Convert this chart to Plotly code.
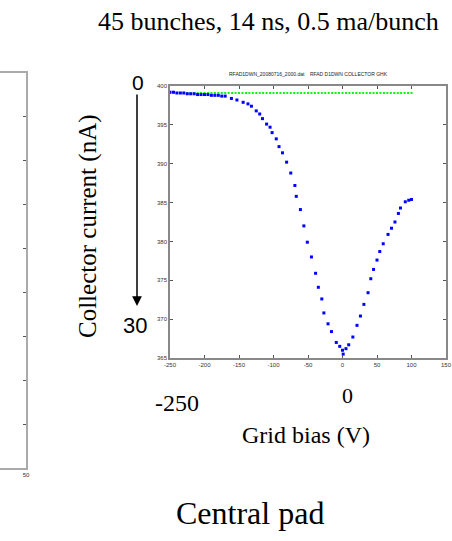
import plotly.graph_objects as go

# Grid bias (V) and collector reading (instrument units) for the central pad
blue_x = [-250, -245, -240, -235, -230, -225, -220, -215, -210, -205, -200, -195, -190, -185, -180, -175,
          -170, -161, -153, -144, -137, -132, -125, -120, -116, -110, -105, -102, -96, -92, -87, -81, -75,
          -69, -67, -61, -56, -51, -45, -39, -35, -30, -27, -21, -16, -9, -4, 0, 1, 5, 9, 15, 21,
          26, 31, 37, 41, 45, 50, 54, 59, 66, 71, 76, 81, 84, 91, 96, 100]
blue_y = [399.2, 399.2, 399.1, 399.1, 399.1, 399.0, 399.0, 399.0, 398.9, 398.9, 398.9, 398.9, 398.8, 398.8, 398.8, 398.7,
          398.7, 398.4, 398.2, 397.9, 397.7, 397.4, 396.8, 396.4, 395.8, 395.1, 394.7, 394.0, 393.2, 392.2, 391.4, 390.2, 388.8,
          387.2, 385.8, 384.1, 382.0, 379.9, 378.0, 375.9, 374.1, 372.6, 370.8, 369.4, 368.4, 367.0, 366.5, 366.0, 365.5, 366.2, 366.7, 367.7, 369.2,
          370.4, 371.9, 373.4, 375.2, 376.4, 377.6, 378.7, 379.7, 380.9, 381.7, 382.5, 383.6, 384.3, 385.1, 385.3, 385.4]

green_x = [-250, -245, -240, -235, -230, -225, -220, -215, -210, -205, -200, -195, -190, -185, -180, -175,
           -170, -165, -160, -155, -150, -145, -140, -135, -130, -125, -120, -115, -110, -105, -100, -95,
           -90, -85, -80, -75, -70, -65, -60, -55, -50, -45, -40, -35, -30, -25, -20, -15, -10, -5, 0,
           5, 10, 15, 20, 25, 30, 35, 40, 45, 50, 55, 60, 65, 70, 75, 80, 85, 90, 95, 100]
green_y = [399.1, 399.1, 399.1, 399.1, 399.1, 399.1, 399.1, 399.1, 399.1, 399.1, 399.1, 399.1, 399.1, 399.1, 399.1, 399.1,
           399.1, 399.1, 399.1, 399.1, 399.1, 399.1, 399.1, 399.1, 399.1, 399.1, 399.1, 399.1, 399.1, 399.1, 399.1, 399.1,
           399.1, 399.1, 399.1, 399.1, 399.1, 399.1, 399.1, 399.1, 399.1, 399.1, 399.1, 399.1, 399.1, 399.1, 399.1, 399.1, 399.1, 399.1, 399.1,
           399.1, 399.1, 399.1, 399.1, 399.1, 399.1, 399.1, 399.1, 399.1, 399.1, 399.1, 399.1, 399.1, 399.1, 399.1, 399.1, 399.1, 399.1, 399.1, 399.1]

x_ticks = [-250, -200, -150, -100, -50, 0, 50, 100, 150]
y_ticks = [365, 370, 375, 380, 385, 390, 395, 400]
left_x_ticks = [50]
left_y_ticks = [0, 1, 2, 3, 4, 5, 6, 7, 8, 9]

W, H = 452, 541
def px(x):
    return x / W
def py(y):
    return 1 - y / H

fig = go.Figure()
fig.add_trace(go.Scatter(x=green_x, y=green_y, mode="markers",
                         marker=dict(symbol="square", size=2, color="#00ff00"),
                         xaxis="x", yaxis="y", showlegend=False, cliponaxis=False))
fig.add_trace(go.Scatter(x=blue_x, y=blue_y, mode="markers",
                         marker=dict(symbol="square", size=3, color="#0000ff"),
                         xaxis="x", yaxis="y", showlegend=False, cliponaxis=False))
# empty trace to show the partial left panel
fig.add_trace(go.Scatter(x=[], y=[], xaxis="x2", yaxis="y2", showlegend=False))

tickfont = dict(family="Liberation Sans, Arial", size=6, color="#333333")
axcommon = dict(showline=True, linecolor="#888888", linewidth=1.5, mirror="ticks",
                ticks="inside", ticklen=3, tickcolor="#555555", showgrid=False, zeroline=False,
                tickfont=tickfont, fixedrange=True, automargin=False)

fig.update_layout(
    width=W, height=H, autosize=False,
    margin=dict(l=0, r=0, t=0, b=0, pad=0, autoexpand=False),
    paper_bgcolor="white", plot_bgcolor="white",
    xaxis=dict(domain=[px(170), px(446)], range=[-250, 150], tickvals=x_ticks,
               ticktext=[str(v) for v in x_ticks], anchor="y", **axcommon),
    yaxis=dict(domain=[py(358), py(86)], range=[365, 400], tickvals=y_ticks,
               ticktext=[str(v) for v in y_ticks], anchor="x", **axcommon),
    xaxis2=dict(domain=[0, px(26)], range=[20, 50], tickvals=left_x_ticks,
                showline=True, linecolor="#aaaaaa", linewidth=1.5, mirror=True,
                ticks="", showgrid=False, zeroline=False, tickfont=tickfont, anchor="y2",
                automargin=False, fixedrange=True),
    yaxis2=dict(domain=[py(468), py(73)], range=[0, 9], tickvals=left_y_ticks,
                side="right", showticklabels=False, showline=True, linecolor="#aaaaaa",
                linewidth=1.5, ticks="inside", ticklen=3, tickcolor="#555555",
                showgrid=False, zeroline=False, anchor="x2", automargin=False, fixedrange=True),
)

serif = "Liberation Serif, Times New Roman, serif"
sans = "Liberation Sans, Arial, sans-serif"
ann = [
    dict(text="45 bunches, 14 ns, 0.5 ma/bunch", x=px(268), y=py(21), font=dict(family=serif, size=26, color="black")),
    dict(text="Collector current (nA)", x=px(88), y=py(226), textangle=-90, font=dict(family=serif, size=25, color="black")),
    dict(text="0", x=px(137.5), y=py(83), font=dict(family=sans, size=21, color="black")),
    dict(text="30", x=px(135), y=py(325), font=dict(family=sans, size=22, color="black")),
    dict(text="-250", x=px(177), y=py(403), font=dict(family=serif, size=24, color="black")),
    dict(text="0", x=px(347), y=py(395), font=dict(family=serif, size=22, color="black")),
    dict(text="Grid bias (V)", x=px(306), y=py(435), font=dict(family=serif, size=24, color="black")),
    dict(text="Central pad", x=px(250), y=py(513), font=dict(family=serif, size=32, color="black")),
    dict(text="RFAD1DWN_20080716_2000.dat&nbsp;&nbsp;&nbsp;&nbsp;RFAD D1DWN COLLECTOR GHK", x=px(308), y=py(74),
         font=dict(family=sans, size=5, color="#222222")),
]
for a in ann:
    a.update(xref="paper", yref="paper", xanchor="center", yanchor="middle", showarrow=False)
    fig.add_annotation(**a)

fig.add_annotation(x=px(137), y=py(306), xref="paper", yref="paper", text="", showarrow=True,
                   ax=0, ay=-213, arrowhead=2, arrowsize=1.3, arrowwidth=1.5, arrowcolor="black")

fig.write_html("out.html", config={"displayModeBar": False},
               post_script="document.body.style.margin='0px';document.body.style.padding='0px';")
